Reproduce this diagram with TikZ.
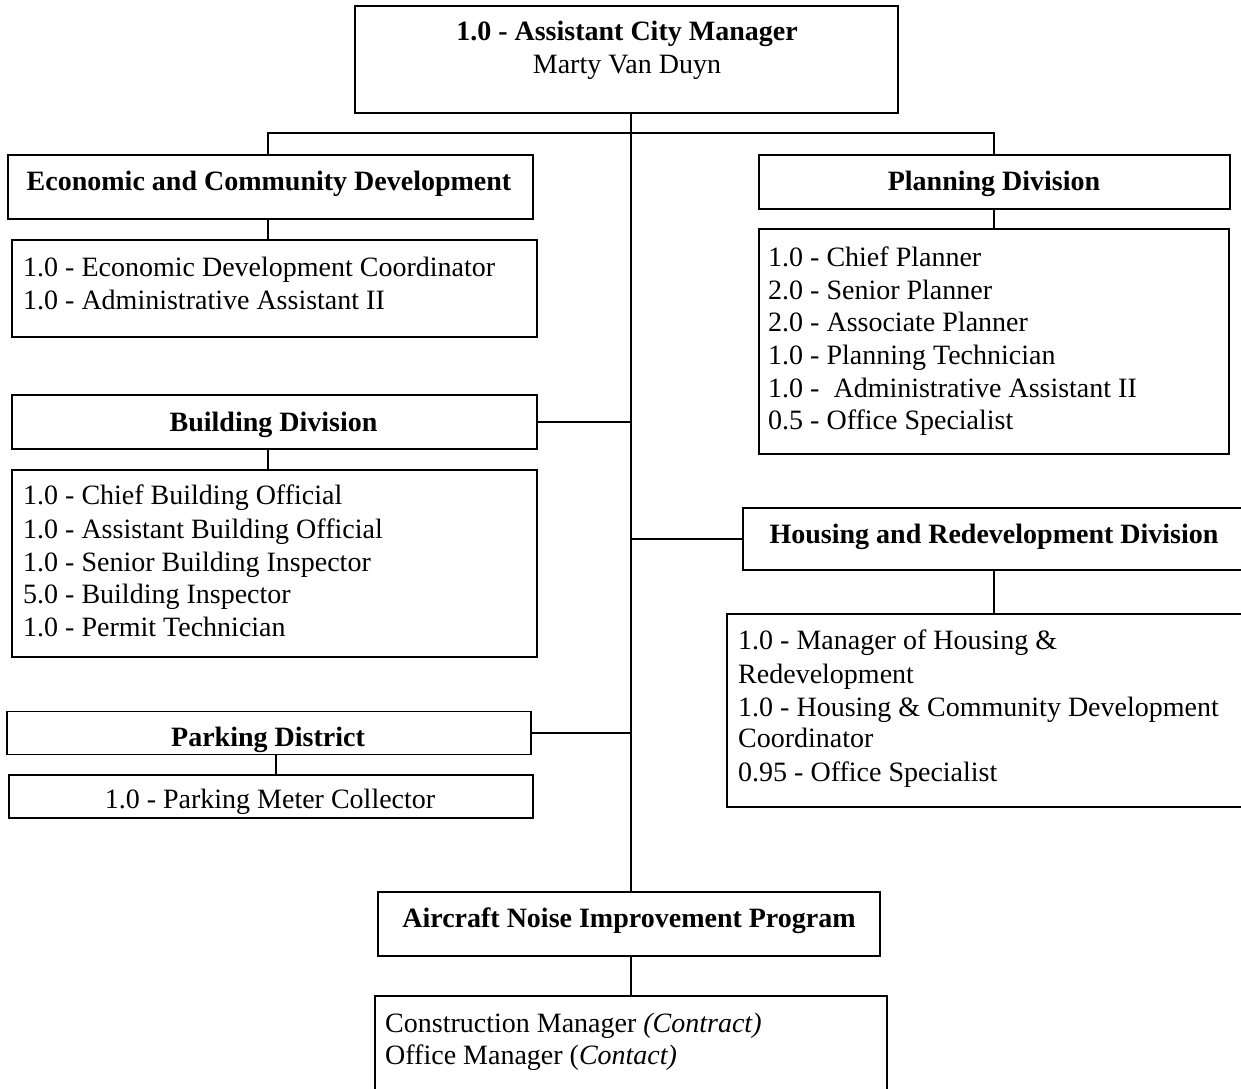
\documentclass[tikz,border=0pt]{standalone}
\usepackage{fontspec}
\setmainfont{Liberation Serif}
\begin{document}
\begin{tikzpicture}[x=1pt,y=-1pt,
  box/.style={draw, line width=1.4pt, rectangle, inner sep=0pt},
  link/.style={line width=1.4pt},
  head/.style={font=\fontsize{28}{33}\selectfont\bfseries, anchor=base, inner sep=0pt},
  plain/.style={font=\fontsize{28}{33}\selectfont, anchor=base, inner sep=0pt},
  item/.style={font=\fontsize{28}{33}\selectfont, anchor=base west, inner sep=0pt},
]
\useasboundingbox (0,0) rectangle (1241,1088);
\fill[white] (0,0) rectangle (1241,1088);

% boxes
\node[box, minimum width=543, minimum height=107] (top)   at (626.5,59.5) {};
\node[box, minimum width=525, minimum height=64]  (ecd)   at (270.5,187) {};
\node[box, minimum width=525, minimum height=97]  (ecdl)  at (274.5,288.5) {};
\node[box, minimum width=471, minimum height=54]  (plan)  at (994.5,182) {};
\node[box, minimum width=470, minimum height=225] (planl) at (994,341.5) {};
\node[box, minimum width=525, minimum height=54]  (bld)   at (274.5,422) {};
\node[box, minimum width=525, minimum height=187] (bldl)  at (274.5,563.5) {};
\node[box, minimum width=507, minimum height=62]  (hou)   at (996.5,539) {};
\node[box, minimum width=523, minimum height=193] (houl)  at (988.5,710.5) {};
\node[box, minimum width=524, minimum height=43]  (park)  at (269,733) {};
\node[box, minimum width=524, minimum height=43]  (parkl) at (271,796.5) {};
\node[box, minimum width=502, minimum height=64]  (air)   at (629,924) {};
\node[box, minimum width=512, minimum height=104] (airl)  at (631,1048) {};

% connector guide points
\coordinate (busL)  at (268,133);
\coordinate (busR)  at (994,133);
\coordinate (trunk) at (631,133);
\coordinate (pk)    at (276,0);

% connectors
\draw[link] (trunk |- top.south) -- (trunk |- air.north);
\draw[link] (busL |- ecd.north) -- (busL) -- (busR) -- (busR |- plan.north);
\draw[link] (busL |- ecd.south) -- (busL |- ecdl.north);
\draw[link] (busR |- plan.south) -- (busR |- planl.north);
\draw[link] (bld.east) -- (bld.east -| trunk);
\draw[link] (busL |- bld.south) -- (busL |- bldl.north);
\draw[link] (hou.west) -- (hou.west -| trunk);
\draw[link] (busR |- hou.south) -- (busR |- houl.north);
\draw[link] (park.east) -- (park.east -| trunk);
\draw[link] (pk |- park.south) -- (pk |- parkl.north);
\draw[link] (trunk |- air.south) -- (trunk |- airl.north);

% headings
\node[head]  (topt)  at (627,40)    {1.0 - Assistant City Manager};
\node[plain] (topn)  at (627,73)    {Marty Van Duyn};
\node[head]  (ecdt)  at (269,190)   {Economic and Community Development};
\node[head]  (plant) at (994,190)   {Planning Division};
\node[head]  (bldt)  at (273.5,431) {Building Division};
\node[head]  (hout)  at (994,543)   {Housing and Redevelopment Division};
\node[head]  (parkt) at (268,746)   {Parking District};
\node[head]  (airt)  at (629,927)   {Aircraft Noise Improvement Program};
\node[plain] (parki) at (270,808)   {1.0 - Parking Meter Collector};

% staff lists
\foreach \y/\txt [count=\i] in {276/{1.0 - Economic Development Coordinator},
                                309/{1.0 - Administrative Assistant II}}
  \node[item] (ecd-\i) at (23,\y) {\txt};

\foreach \y/\txt [count=\i] in {266/{1.0 - Chief Planner},
                                299/{2.0 - Senior Planner},
                                331/{2.0 - Associate Planner},
                                364/{1.0 - Planning Technician},
                                397/{1.0 - \ Administrative Assistant II},
                                429/{0.5 - Office Specialist}}
  \node[item] (plan-\i) at (768,\y) {\txt};

\foreach \y/\txt [count=\i] in {504/{1.0 - Chief Building Official},
                                538/{1.0 - Assistant Building Official},
                                571/{1.0 - Senior Building Inspector},
                                603/{5.0 - Building Inspector},
                                636/{1.0 - Permit Technician}}
  \node[item] (bld-\i) at (23,\y) {\txt};

\foreach \y/\txt [count=\i] in {649/{1.0 - Manager of Housing \&},
                                683/{Redevelopment},
                                716/{1.0 - Housing \& Community Development},
                                747/{Coordinator},
                                781/{0.95 - Office Specialist}}
  \node[item] (hou-\i) at (738,\y) {\txt};

\foreach \y/\txt [count=\i] in {1032/{Construction Manager \textit{(Contract)}},
                                1064/{Office Manager (\textit{Contact)}}}
  \node[item] (air-\i) at (385,\y) {\txt};
\end{tikzpicture}
\end{document}
